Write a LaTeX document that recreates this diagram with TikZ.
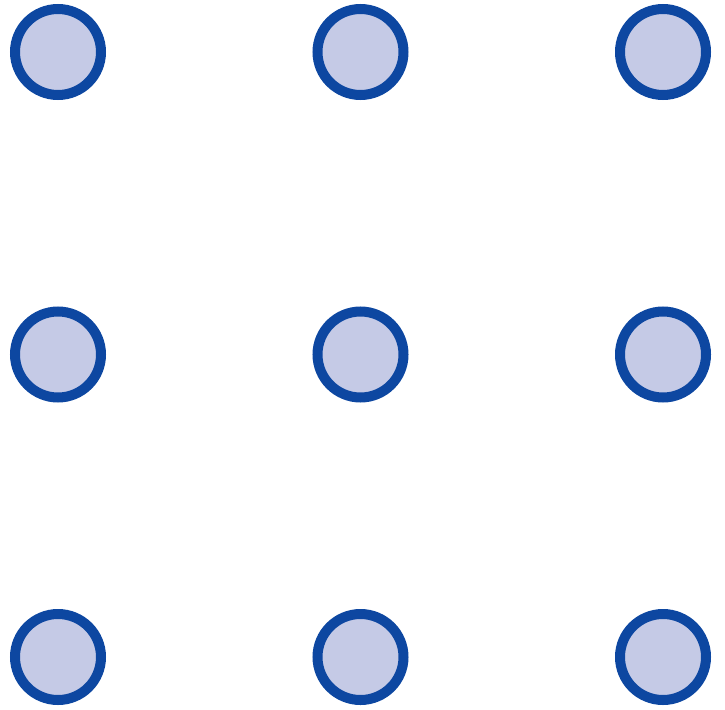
\documentclass[tikz,border=0pt]{standalone}
\usepackage{tikz}
\definecolor{dotline}{HTML}{0D47A1}
\definecolor{dotfill}{HTML}{C5CAE6}

\begin{document}
\begin{tikzpicture}[
    x=1pt, y=-1pt,
    dot/.style={circle, draw=dotline, fill=dotfill, line width=10pt, minimum size=86pt, inner sep=0pt}]
\useasboundingbox (0,0) rectangle (725,709);
\foreach \row/\ypos in {1/52, 2/354.5, 3/657}
  \foreach \col/\xpos in {1/58, 2/360.5, 3/663}
    \node[dot] (dot-\row-\col) at (\xpos,\ypos) {};
\end{tikzpicture}
\end{document}
